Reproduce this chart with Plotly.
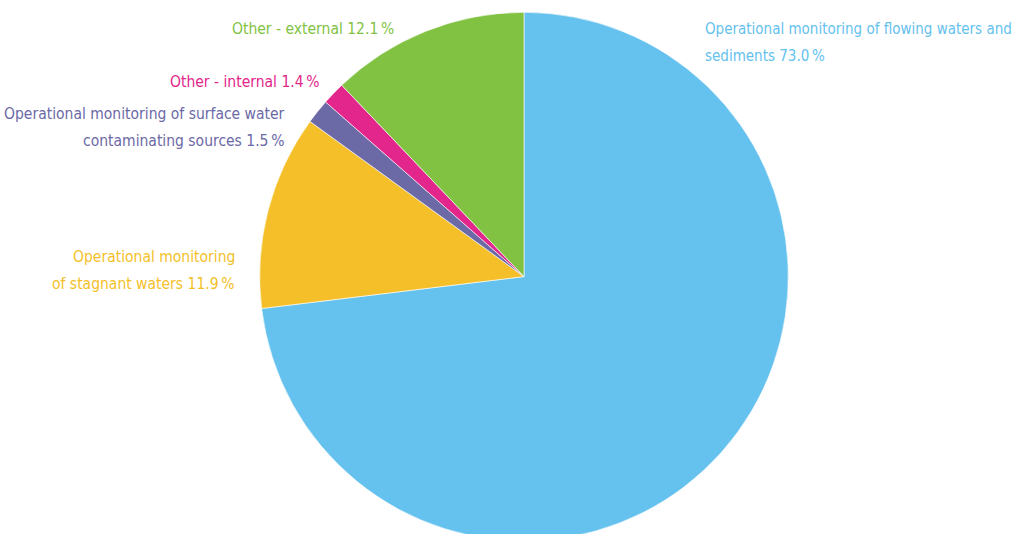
import plotly.graph_objects as go

# Share of samples by monitoring programme
categories = [
    "Operational monitoring of flowing waters and sediments",
    "Operational monitoring of stagnant waters",
    "Operational monitoring of surface water contaminating sources",
    "Other - internal",
    "Other - external",
]
shares = [73.0, 11.9, 1.5, 1.4, 12.1]
colors = ["#65C1EE", "#F4BF28", "#6B69A6", "#E2268B", "#82C243"]

label_lines = [
    ["Operational monitoring of flowing waters and", "sediments {v}\u2009%"],
    ["Operational monitoring", "of stagnant waters {v}\u2009%"],
    ["Operational monitoring of surface water", "contaminating sources {v}\u2009%"],
    ["Other - internal {v}\u2009%"],
    ["Other - external {v}\u2009%"],
]

W, H = 1020, 542
FONT = "DejaVu Sans Condensed, Liberation Sans Narrow, Arial Narrow, sans-serif"

# pie placed in pixel box (left, top, right, bottom)
box = (259.7, 12.3, 788.3, 540.9)

fig = go.Figure(
    go.Pie(
        labels=categories,
        values=shares,
        sort=False,
        direction="clockwise",
        rotation=0,
        marker=dict(colors=colors, line=dict(color="white", width=0.6)),
        textinfo="none",
        hoverinfo="label+percent",
        showlegend=False,
        domain=dict(
            x=[box[0] / W, box[2] / W],
            y=[1 - box[3] / H, 1 - box[1] / H],
        ),
    )
)

# label anchor positions in pixels: (x, y of first line centre, side, font size)
label_pos = [
    (703, 29, "left", 15),
    (237, 257, "right", 15.5),
    (287, 114, "right", 15.5),
    (322, 82, "right", 15.5),
    (396, 29, "right", 15.5),
]
LINE = 27

for lines, val, col, (px, py, side, fs) in zip(label_lines, shares, colors, label_pos):
    for i, ln in enumerate(lines):
        fig.add_annotation(
            x=px / W,
            y=1 - (py + i * LINE) / H,
            xref="paper",
            yref="paper",
            xanchor=side,
            yanchor="middle",
            text=ln.format(v=f"{val:.1f}"),
            showarrow=False,
            font=dict(family=FONT, size=fs, color=col),
        )

fig.update_layout(
    width=W,
    height=H,
    margin=dict(l=0, r=0, t=0, b=0),
    paper_bgcolor="white",
    plot_bgcolor="white",
)

fig.write_html(
    "out.html",
    post_script="document.body.style.overflow='hidden';document.documentElement.style.overflow='hidden';document.body.style.margin='0';",
)
